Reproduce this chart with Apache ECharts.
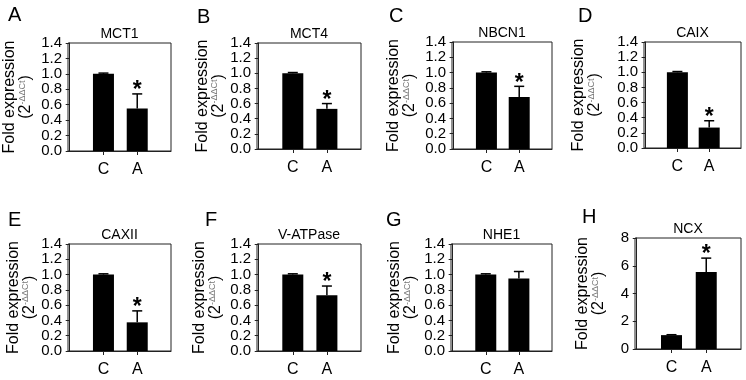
<!DOCTYPE html>
<html>
<head>
<meta charset="utf-8">
<script src="https://cdn.jsdelivr.net/npm/echarts@6/dist/echarts.min.js"></script>
<style>
html,body{margin:0;padding:0;background:#fff;}
#chart{width:746px;height:380px;}
</style>
</head>
<body>
<div id="chart"></div>
<script>
// ---- data ----
const categories = ['C', 'A'];
const panelLetters = ['A', 'B', 'C', 'D', 'E', 'F', 'G', 'H'];
const genes = ['MCT1', 'MCT4', 'NBCN1', 'CAIX', 'CAXII', 'V-ATPase', 'NHE1', 'NCX'];
const controlMean = [1.0, 1.0, 1.0, 1.0, 1.0, 1.0, 1.0, 1.0];
const controlErr = [0.01, 0.01, 0.01, 0.01, 0.01, 0.01, 0.01, 0.03];
const treatedMean = [0.55, 0.53, 0.68, 0.27, 0.375, 0.73, 0.95, 5.55];
const treatedErr = [0.19, 0.07, 0.14, 0.09, 0.15, 0.12, 0.09, 1.0];
const significant = [true, true, true, true, true, true, false, true];
const yMax = [1.4, 1.4, 1.4, 1.4, 1.4, 1.4, 1.4, 8];
const yStep = [0.2, 0.2, 0.2, 0.2, 0.2, 0.2, 0.2, 2];
const yDecimals = [1, 1, 1, 1, 1, 1, 1, 0];

// ---- layout (not data) ----
const grids = [
  {left: 68, top: 43, width: 103, height: 108},
  {left: 257, top: 43, width: 104, height: 106},
  {left: 452, top: 42, width: 100, height: 107},
  {left: 644, top: 42, width: 97, height: 106},
  {left: 68, top: 244, width: 103, height: 107},
  {left: 257, top: 244, width: 104, height: 107},
  {left: 451, top: 244, width: 101, height: 107},
  {left: 635, top: 238, width: 106, height: 111}
];
const nameGaps = [34, 29, 34, 41, 30, 33, 32, 28];
const letterPos = [[8, 5], [197, 7], [389, 6], [578, 6], [8, 210], [205, 210], [386, 210], [582, 207]];

const FONT = '"Liberation Sans", Arial, sans-serif';

const option = {
  animation: false,
  backgroundColor: '#fff',
  grid: [], xAxis: [], yAxis: [], series: [], title: [], graphic: []
};

genes.forEach((g, i) => {
  const gr = grids[i];
  option.grid.push({
    left: gr.left, top: gr.top, width: gr.width, height: gr.height,
    show: true, borderColor: '#222', borderWidth: 1, backgroundColor: 'transparent'
  });
  option.xAxis.push({
    gridIndex: i, type: 'value', min: -0.05, max: 3.0,
    splitLine: {show: false},
    axisLine: {show: true, onZero: false, lineStyle: {color: '#222', width: 1}},
    axisTick: {show: true, customValues: [1, 2], length: 4, lineStyle: {color: '#222'}},
    axisLabel: {
      show: true, customValues: [1, 2], margin: 11,
      formatter: v => categories[Math.round(v) - 1] || '',
      color: '#000', fontSize: 16, fontFamily: FONT
    }
  });
  option.yAxis.push({
    gridIndex: i, type: 'value', min: 0, max: yMax[i], interval: yStep[i],
    splitLine: {show: false},
    axisLine: {show: true, lineStyle: {color: '#222', width: 1}},
    axisTick: {show: true, length: 4, lineStyle: {color: '#222'}},
    axisLabel: {
      margin: 6, color: '#000', fontSize: 15, fontFamily: FONT,
      formatter: v => v.toFixed(yDecimals[i])
    },
    name: '{n|Fold expression}\n{n|(2}{s|-ΔΔCt}{n|)}',
    nameLocation: 'middle', nameRotate: 90, nameGap: nameGaps[i],
    nameTextStyle: {
      fontFamily: FONT, color: '#000',
      rich: {
        n: {fontSize: 16, lineHeight: 16, color: '#000', fontFamily: FONT},
        s: {fontSize: 9, lineHeight: 16, color: '#777', fontFamily: FONT, verticalAlign: 'top', padding: [0, 0, 7, 0]}
      }
    }
  });
  option.title.push({
    text: g,
    left: gr.left + gr.width / 2, top: gr.top - 16,
    textAlign: 'center', padding: 0,
    textStyle: {fontSize: 14, fontWeight: 'normal', color: '#000', fontFamily: FONT}
  });
  option.graphic.push({
    type: 'text', left: letterPos[i][0], top: letterPos[i][1],
    style: {text: panelLetters[i], fontSize: 20, fill: '#000', fontFamily: FONT}
  });

  const means = [controlMean[i], treatedMean[i]];
  const errs = [controlErr[i], treatedErr[i]];
  const sig = [false, significant[i]];
  option.series.push({
    type: 'bar', xAxisIndex: i, yAxisIndex: i,
    barWidth: 21,
    itemStyle: {color: '#000'},
    data: categories.map((c, k) => [k + 1, means[k]])
  });
  option.series.push({
    type: 'custom', xAxisIndex: i, yAxisIndex: i,
    data: categories.map((c, k) => [k + 1, means[k], means[k] + errs[k], sig[k] ? 1 : 0]),
    renderItem: (params, api) => {
      const x = api.value(0);
      const p0 = api.coord([x, api.value(1)]);
      const p1 = api.coord([x, api.value(2)]);
      const children = [
        {type: 'line', shape: {x1: p0[0], y1: p0[1], x2: p1[0], y2: p1[1]}, style: {stroke: '#000', lineWidth: 1.5}},
        {type: 'line', shape: {x1: p1[0] - 5, y1: p1[1], x2: p1[0] + 5, y2: p1[1]}, style: {stroke: '#000', lineWidth: 1.5}}
      ];
      if (api.value(3) === 1) {
        children.push({
          type: 'text', x: p1[0], y: p1[1] - 3,
          style: {text: '*', fontSize: 23, fontWeight: 'bold', fill: '#000', fontFamily: FONT, align: 'center', verticalAlign: 'middle'}
        });
      }
      return {type: 'group', children};
    }
  });
});

const chart = echarts.init(document.getElementById('chart'), null, {renderer: 'canvas'});
chart.setOption(option);
</script>
</body>
</html>
